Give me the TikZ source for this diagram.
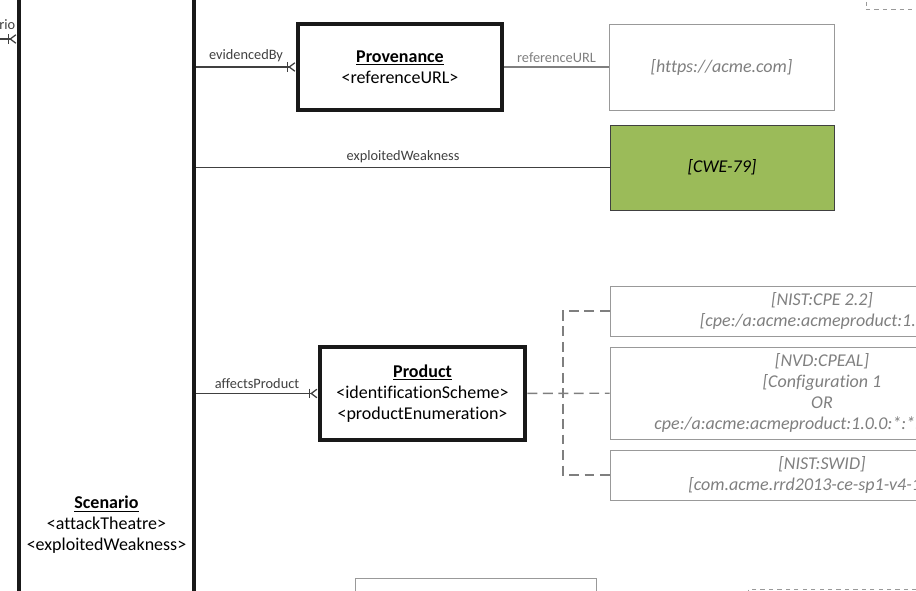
\documentclass[tikz,border=0pt]{standalone}
\usepackage{fontspec}
\setmainfont{Carlito}[Ligatures=NoCommon]
\usetikzlibrary{arrows.meta,positioning}
\definecolor{linegray}{HTML}{404040}
\definecolor{valgray}{HTML}{7F7F7F}
\definecolor{cwegreen}{HTML}{9BBB59}
\tikzset{
  every picture/.style = {
    x = 0.025cm,
    y = -0.025cm,
  }
  ,
  entity/.style = {
    rectangle,
    draw = black!90,
    line width = 3.5pt,
    font = \fontsize{12.8}{15}\selectfont,
    align = center,
    inner sep = 0pt
  }
  , % value boxes
  value/.style = {
    rectangle,
    draw = valgray!80,
    line width = 0.6pt,
    font = \fontsize{12.8}{15}\selectfont\itshape,
    text = valgray,
    align = center,
    inner sep = 0pt
  }
  , % labels of edges
  label-edge/.style = {
    font = \fontsize{10.2}{12}\selectfont,
    text = linegray,
    inner sep = 3pt
  }
  ,
  link/.style = {
    draw = linegray,
    line width = 0.9pt
  }
  ,
  one-many/.style = {
    link,
    -{Bar[width=7pt] Straight Barb[reversed, length=4pt, width=6pt]}
  }
  , % dashed choices
  option-link/.style = {
    draw = valgray,
    line width = 1pt,
    dash pattern = on 7pt off 4pt
  }
}
\begin{document}
\begin{tikzpicture}
  \useasboundingbox (0,0) rectangle (916,591);
  \clip (0,0) rectangle (916,591);

  % entities
  \node [entity, minimum width = 4.375cm, minimum height = 28.25cm] (scenario) at (106.5,525)
    {\underline{\textbf{Scenario}}\\ <attackTheatre>\\ <exploitedWeakness>};
  \node [entity, minimum width = 5.1cm, minimum height = 2.15cm] (prov) at (400,67)
    {\underline{\textbf{Provenance}}\\ <referenceURL>};
  \node [entity, minimum width = 5.125cm, minimum height = 2.325cm] (product) at (422.5,393.5)
    {\underline{\textbf{Product}}\\ <identificationScheme>\\ <productEnumeration>};

  % values
  \node [value, minimum width = 5.625cm, minimum height = 2.15cm] (url) at (721.5,67) {[https://acme.com]};
  \node [value, fill = cwegreen, draw = linegray, text = black,
         minimum width = 5.6cm, minimum height = 2.125cm] (cwe) at (722,167.5) {[CWE-79]};
  \node [value, minimum width = 10.6cm, minimum height = 1.25cm] (cpe) at (822,311)
    {[NIST:CPE 2.2]\\{}[cpe:/a:acme:acmeproduct:1.0.0]};
  \node [value, minimum width = 10.6cm, minimum height = 2.3cm] (cpeal) at (822,393)
    {[NVD:CPEAL]\\{}[Configuration 1\\ OR\\ cpe:/a:acme:acmeproduct:1.0.0:*:*:*:*:*:*:*]};
  \node [value, minimum width = 10.6cm, minimum height = 1.25cm] (swid) at (822,475)
    {[NIST:SWID]\\{}[com.acme.rrd2013-ce-sp1-v4-1-5-0]};
  \node [value, minimum width = 6.025cm, minimum height = 2.1cm] (lower) at (475.5,620) {};
  \node [value, dashed, minimum width = 6.3cm, minimum height = 1.525cm] (lowerright) at (874,620) {};
  \node [value, dashed, minimum width = 5.85cm, minimum height = 1.725cm] (upperright) at (983,-25.5) {};

  % relations
  \coordinate (parent) at (-2,39);
  \node [label-edge, anchor = west, inner sep = 0pt] (rio) at (-1,25) {rio};
  \draw [one-many] (parent) -- (scenario.west |- parent);
  \draw [one-many] (scenario.east |- prov.west) -- node [label-edge, above] {evidencedBy} (prov.west);
  \draw [link, draw = valgray] (prov) -- node [label-edge, above, text = valgray] {referenceURL} (url);
  \draw [link] (scenario.east |- cwe.west) -- node [label-edge, above] {exploitedWeakness} (cwe.west);
  \draw [one-many] (scenario.east |- product.west) -- node [label-edge, above] {affectsProduct} (product.west);
  \coordinate (fork) at (563,393);
  \draw [option-link] (product) -- (cpeal);
  \draw [option-link] (cpe.west) -| (fork) |- (swid.west);
\end{tikzpicture}
\end{document}
